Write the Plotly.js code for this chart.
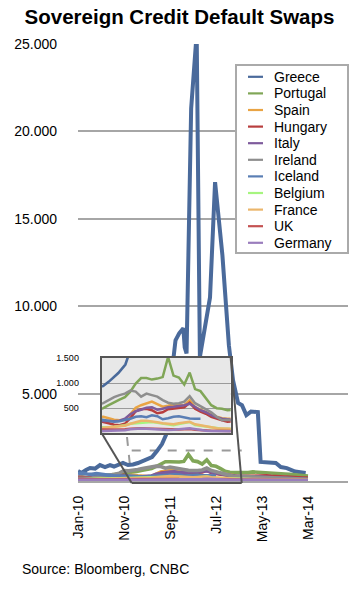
<!DOCTYPE html>
<html><head><meta charset="utf-8">
<script src="https://cdn.plot.ly/plotly-3.0.1.min.js"></script>
<style>html,body{margin:0;padding:0;background:#fff;}#chart{width:359px;height:590px;}</style>
</head><body><div id="chart"></div>
<script>
// ---- data (x = months since Jan-10) ----
const tickMonths = [0, 10, 20, 30, 40, 50];
const tickLabels = ['Jan-10', 'Nov-10', 'Sep-11', 'Jul-12', 'May-13', 'Mar-14'];
const months = [0,1,2,3,4,5,6,7,8,9,10,11,12,13,14,15,16,17,18,19,20,21,22,23,24,25,26,27,28,29,30,31,32,33,34,35,36,37,38,39,40,41,42,43,44,45,46,47,48,49,50];
const greeceMonths = [0,0.76,1.74,2.61,3.7,4.78,5.87,6.96,7.83,8.7,9.78,10.87,11.96,13.04,14.78,16.09,17.17,18.26,19.13,20.0,20.7,21.2,22.0,22.9,23.2,23.6,24.6,25.8,26.5,27.6,28.7,29.8,31.4,32.8,33.7,34.8,35.65,36.6,37.6,39.1,39.7,43.0,44.1,45.4,47.2,49.5];
const greece = [570,457,630,740,710,914,800,914,830,943,1030,914,943,1030,1200,1370,1710,2110,2630,4630,6900,8050,8450,8740,7650,7300,21300,25600,7100,8800,10500,17100,12900,7770,5770,4460,4340,3770,3970,3940,1090,1030,800,740,540,457];
const portugal = [200,230,180,250,330,300,320,310,330,400,450,470,500,560,620,670,720,830,990,1100,1100,1070,1090,1120,1520,1150,1110,970,1210,880,840,710,560,500,490,460,470,480,520,510,490,480,470,460,430,400,380,360,330,300,280];
const spain = [100,110,100,120,180,220,220,200,230,220,280,320,330,300,270,260,270,380,510,560,600,630,580,530,550,575,570,560,660,520,470,430,375,330,300,290,300,290,270,250,260,250,230,220,200,180,160,140,120,110,100];
const hungary = [220,200,190,220,280,300,290,300,280,300,320,250,230,200,170,160,190,300,440,480,490,460,400,420,480,490,500,520,610,490,430,390,330,290,260,230,240,260,280,270,290,300,270,250,230,220,200,190,180,170,170];
const italy = [90,100,90,110,170,190,180,170,190,180,210,240,250,240,240,250,290,380,440,470,510,520,470,490,520,530,540,560,590,520,460,420,360,320,290,280,270,260,250,240,250,240,220,210,190,170,150,140,120,110,100];
const ireland = [150,160,150,170,230,260,280,300,380,450,600,580,600,660,720,760,790,850,830,730,790,760,730,660,610,590,600,630,740,600,540,470,420,330,260,270,260,240,220,200,190,180,170,160,150,140,130,120,110,100,95];
const iceland = [420,450,400,380,420,380,330,300,290,280,300,280,270,240,230,240,260,290,330,340,320,360,340,280,300,330,340,310,295,290,290];
const belgium = [50,55,50,60,110,130,110,100,120,130,140,120,115,120,130,140,160,190,200,215,210,225,210,190,170,160,185,205,225,165,150,130,110,95,90,90,85,80,75,70,70,65,60,55,50,48,45,42,40,38,36];
const france = [60,65,60,70,90,100,95,90,100,105,110,100,110,115,120,130,150,190,220,250,250,240,220,200,185,180,200,210,230,180,160,130,110,100,95,90,85,80,75,70,70,65,60,55,55,50,50,48,46,45,44];
const uk = [80,85,80,80,85,80,75,70,70,70,75,70,70,70,70,75,80,90,100,100,95,90,80,75,70,70,75,80,85,70,60,55,50,50,50,50,48,45,45,42,40,38,36,35,33,32,30,28,26,25,24];
const germany = [35,40,38,40,45,50,45,40,40,45,50,45,45,45,45,50,60,80,90,95,90,80,70,75,65,70,75,90,100,80,60,50,45,40,40,40,38,35,32,30,28,27,26,25,25,24,23,22,22,21,20];
const mainTicks = [5000, 10000, 15000, 20000, 25000];
const insetTicks = [500, 1000, 1500];
const mainRangeY = [0, 25000];
const mainRangeX = [0, 58.7];
const insetRangeX = [11.7, 35.6];
const insetRangeY = [0, 1500];

const series = [
  {name: 'Greece',   x: greeceMonths, y: greece,   color: '#4A6A9B', w: 4,   wi: 2.6},
  {name: 'Portugal', x: months, y: portugal, color: '#80A657', w: 3.6, wi: 2.5},
  {name: 'Spain',    x: months, y: spain,    color: '#E9A444', w: 3.6, wi: 2.5},
  {name: 'Hungary',  x: months, y: hungary,  color: '#B83E3E', w: 3.6, wi: 2.5},
  {name: 'Italy',    x: months, y: italy,    color: '#7E5B9C', w: 3.6, wi: 2.5},
  {name: 'Ireland',  x: months, y: ireland,  color: '#8E8E8E', w: 3.6, wi: 2.5},
  {name: 'Iceland',  x: months.slice(0, iceland.length), y: iceland, color: '#5A7EB4', w: 3.6, wi: 2.5},
  {name: 'Belgium',  x: months, y: belgium,  color: '#A6F57F', w: 3.6, wi: 2.5},
  {name: 'France',   x: months, y: france,   color: '#EBB66C', w: 3.6, wi: 2.5},
  {name: 'UK',       x: months, y: uk,       color: '#C45252', w: 3.6, wi: 2.5},
  {name: 'Germany',  x: months, y: germany,  color: '#9A7DBD', w: 3.6, wi: 2.5}
];

// ---- geometry helpers (pixel -> paper) ----
const L = 78, R = 348, T = 44, B = 481;
const px = x => (x - L) / (R - L);
const py = y => (B - y) / (B - T);
const FONT = 'Liberation Sans, Arial, Helvetica, sans-serif';

const traces = [];
series.forEach(s => traces.push({
  type: 'scatter', mode: 'lines', name: s.name, x: s.x, y: s.y,
  xaxis: 'x', yaxis: 'y', line: {color: s.color, width: s.w}, hoverinfo: 'skip', showlegend: false
}));
series.forEach(s => traces.push({
  type: 'scatter', mode: 'lines', name: s.name, x: s.x, y: s.y,
  xaxis: 'x2', yaxis: 'y2', line: {color: s.color, width: s.wi}, hoverinfo: 'skip', showlegend: false
}));

const shapes = [
  {type: 'rect', xref: 'x2', yref: 'y2', x0: insetRangeX[0], x1: insetRangeX[1], y0: insetRangeY[0], y1: insetRangeY[1],
   fillcolor: '#E8E8E8', line: {width: 0}, layer: 'below'},
  {type: 'line', xref: 'paper', yref: 'paper', x0: px(131.7), x1: px(241.7), y0: py(450.5), y1: py(450.5),
   line: {color: '#9A9A9A', width: 2, dash: 'dash'}, layer: 'below'},
  {type: 'line', xref: 'paper', yref: 'paper', x0: px(127), x1: px(131.7), y0: py(437), y1: py(482),
   line: {color: '#9A9A9A', width: 2, dash: 'dash'}, layer: 'below'},
  {type: 'line', xref: 'paper', yref: 'paper', x0: px(101.7), x1: px(131.7), y0: py(433.3), y1: py(483),
   line: {color: '#555555', width: 2}, layer: 'above'},
  {type: 'line', xref: 'paper', yref: 'paper', x0: px(230.7), x1: px(241.7), y0: py(358), y1: py(483),
   line: {color: '#555555', width: 2}, layer: 'above'},
  {type: 'line', xref: 'paper', yref: 'paper', x0: px(131.7), x1: px(241.7), y0: py(483), y1: py(483),
   line: {color: '#555555', width: 2}, layer: 'above'},
  // legend box
  {type: 'rect', xref: 'paper', yref: 'paper', x0: px(236), x1: px(348), y0: py(253), y1: py(65),
   fillcolor: '#FFFFFF', line: {color: '#AAAAAA', width: 2}, layer: 'above'}
];
const annotations = [
  {xref: 'paper', yref: 'paper', x: px(20), y: py(569), xanchor: 'left', yanchor: 'middle', showarrow: false,
   text: 'Source: Bloomberg, CNBC', font: {family: FONT, size: 14, color: '#000'}}
];
series.forEach((s, i) => {
  const yy = 76.8 + 16.6 * i;
  shapes.push({type: 'line', xref: 'paper', yref: 'paper', x0: px(248), x1: px(263), y0: py(yy), y1: py(yy),
    line: {color: s.color, width: 2.2}, layer: 'above'});
  annotations.push({xref: 'paper', yref: 'paper', x: px(272), y: py(yy), xanchor: 'left', yanchor: 'middle',
    showarrow: false, text: s.name, font: {family: FONT, size: 14, color: '#000'}});
});

const layout = {
  width: 359, height: 590,
  margin: {l: L, r: 359 - R, t: T, b: 590 - B, pad: 0},
  paper_bgcolor: '#FFFFFF', plot_bgcolor: '#FFFFFF',
  separators: ',.',
  showlegend: false,
  font: {family: FONT, size: 14, color: '#000'},
  title: {text: 'Sovereign Credit Default Swaps', font: {family: FONT, size: 20.5, weight: 'bold', color: '#000'},
          x: 0.5, xanchor: 'center', xref: 'container', y: 1 - 16.5 / 590, yref: 'container', yanchor: 'middle'},
  xaxis: {range: mainRangeX, tickvals: tickMonths, ticktext: tickLabels, tickangle: -90, ticks: '',
          showgrid: false, zeroline: false, showline: true, linecolor: '#A6A6A6', linewidth: 2,
          tickfont: {family: FONT, size: 14, color: '#000'}, ticklabelstandoff: 7, fixedrange: true},
  yaxis: {range: mainRangeY, tickvals: mainTicks, tickformat: ',d', ticks: '', showgrid: true,
          gridcolor: '#A6A6A6', gridwidth: 2, zeroline: false, showline: false,
          tickfont: {family: FONT, size: 14, color: '#000'}, ticklabelstandoff: 20, fixedrange: true},
  xaxis2: {domain: [px(101.7), px(230.7)], anchor: 'y2', range: insetRangeX, showticklabels: false, ticks: '',
           showgrid: false, zeroline: false, showline: true, mirror: true, linecolor: '#555555', linewidth: 2, fixedrange: true},
  yaxis2: {domain: [py(433.3), py(358)], anchor: 'x2', range: insetRangeY, tickvals: insetTicks, tickformat: ',d',
           ticks: '', showgrid: true, gridcolor: '#9A9A9A', gridwidth: 1, zeroline: false, showline: true, mirror: true,
           linecolor: '#555555', linewidth: 2, tickfont: {family: FONT, size: 9, color: '#000'}, ticklabelstandoff: 19, fixedrange: true},
  shapes: shapes,
  annotations: annotations
};

Plotly.newPlot('chart', traces, layout, {staticPlot: true, displayModeBar: false});
</script>
</body></html>
